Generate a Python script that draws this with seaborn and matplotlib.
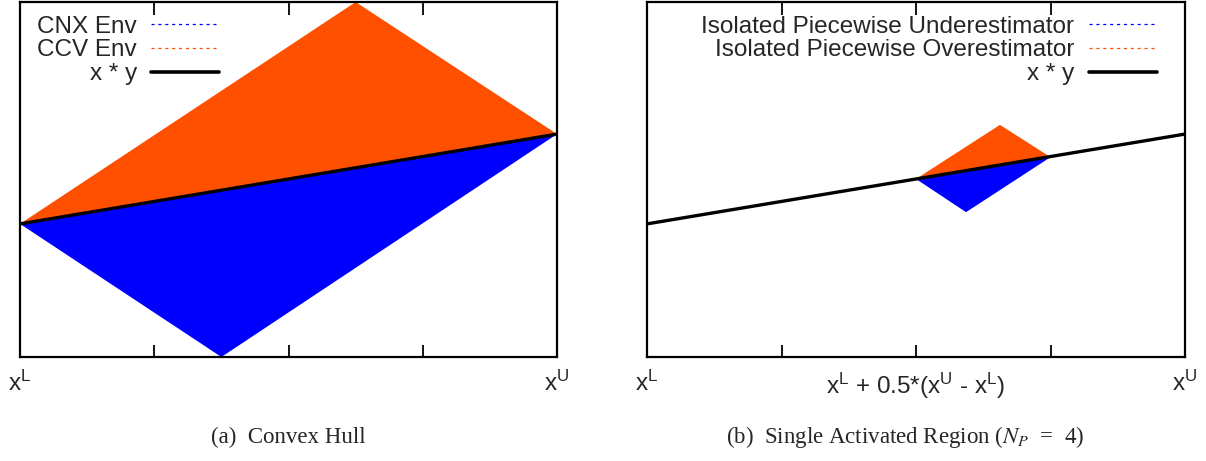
import matplotlib
matplotlib.use('Agg')
import matplotlib.pyplot as plt
import seaborn as sns
import pandas as pd
from matplotlib.lines import Line2D

# x * y line (same in both panels)
line_x = [0.0, 1.0]
line_y = [0.375, 0.628]

# (a) convex hull envelopes
cnx_x = [0.0, 0.375, 1.0]
cnx_y = [0.375, 0.0, 0.628]
ccv_x = [0.0, 0.625, 1.0]
ccv_y = [0.375, 1.0, 0.628]

# (b) single activated region
under_x = [0.5, 0.593, 0.75]
under_y = [0.5015, 0.408, 0.563]
over_x = [0.5, 0.656, 0.75]
over_y = [0.5015, 0.654, 0.563]

tick_pos = [0.0, 0.25, 0.5, 0.75, 1.0]
labels_a = ['$x^L$', '', '', '', '$x^U$']
labels_b = ['$x^L$', '', '$x^L$ + 0.5*($x^U$ - $x^L$)', '', '$x^U$']

blue = '#0000ff'
orange = '#ff5000'

sns.set_style('white')
plt.rcParams['font.family'] = ['Liberation Sans', 'DejaVu Sans']
plt.rcParams['mathtext.default'] = 'regular'

fig = plt.figure(figsize=(12.06, 4.61), dpi=100)
ax1 = fig.add_axes([0.0166, 0.2256, 0.4453, 0.770])
ax2 = fig.add_axes([0.5365, 0.2256, 0.4461, 0.770])


def draw_panel(ax, lo_x, lo_y, hi_x, hi_y, names, labels, loc, anchor):
    ax.fill(lo_x, lo_y, color=blue, lw=0)
    ax.fill(hi_x, hi_y, color=orange, lw=0)
    df = pd.DataFrame({'x': line_x, 'y': line_y})
    sns.lineplot(data=df, x='x', y='y', ax=ax, color='black', lw=2.4)
    ax.set_xlim(0, 1)
    ax.set_ylim(0, 1)
    ax.set_xlabel('')
    ax.set_ylabel('')
    ax.set_yticks([])
    ax.set_xticks(tick_pos)
    ax.set_xticklabels(labels, fontsize=17.5)
    ax.tick_params(axis='x', direction='in', length=9, width=1.3, top=True,
                   bottom=True, pad=10, color='black')
    for s in ax.spines.values():
        s.set_visible(True)
        s.set_linewidth(1.6)
        s.set_color('black')
    handles = [Line2D([], [], color=blue, ls=(0, (2.5, 3)), lw=0.9),
               Line2D([], [], color=orange, ls=(0, (2.5, 3)), lw=0.9),
               Line2D([], [], color='black', lw=2.6)]
    leg = ax.legend(handles, names, loc=loc, bbox_to_anchor=anchor,
                    markerfirst=False, frameon=False, fontsize=17.5,
                    handlelength=2.8, handletextpad=0.6, labelspacing=0.08,
                    borderaxespad=0, borderpad=0)
    for t in leg.get_texts():
        t.set_ha('right')
    return leg


draw_panel(ax1, cnx_x, cnx_y, ccv_x, ccv_y,
           ['CNX Env', 'CCV Env', 'x * y'], labels_a,
           'upper left', (0.032, 0.962))
draw_panel(ax2, under_x, under_y, over_x, over_y,
           ['Isolated Piecewise Underestimator',
            'Isolated Piecewise Overestimator', 'x * y'], labels_b,
           'upper right', (0.948, 0.962))

fig.text(0.2392, 0.038, '(a)  Convex Hull', ha='center', fontsize=16.5,
         family='Liberation Serif')
fig.text(0.7504, 0.038, '(b)  Single Activated Region ($\\mathit{N_P}$  =  4)',
         ha='center', fontsize=16.5, family='Liberation Serif',
         math_fontfamily='stix')

fig.savefig('out.png', dpi=100)
